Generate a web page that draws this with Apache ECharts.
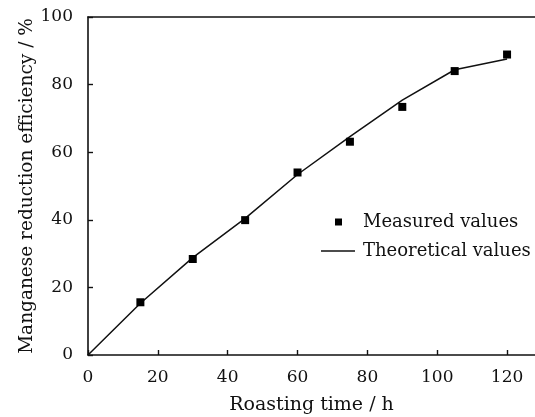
<!DOCTYPE html>
<html>
<head>
<meta charset="utf-8">
<style>html,body{margin:0;padding:0;background:#fff}#c{width:535px;height:417px}</style>
<script src="https://cdn.jsdelivr.net/npm/echarts@6/dist/echarts.min.js"></script>
</head>
<body>
<div id="c"></div>
<script>
var timeH = [0, 15, 30, 45, 60, 75, 90, 105, 120];
var measuredX = [15, 30, 45, 60, 75, 90, 105, 120];
var measuredY = [15.6, 28.4, 39.9, 54.0, 63.1, 73.4, 84.0, 88.9];
var theoreticalY = [0, 15.3, 28.8, 40.4, 53.4, 64.6, 75.4, 84.4, 87.6];
var xTicks = [0, 20, 40, 60, 80, 100, 120];
var yTicks = [0, 20, 40, 60, 80, 100];

var FONT = 'DejaVu Serif';
var INK = '#111';
var chart = echarts.init(document.getElementById('c'), null, {renderer: 'canvas'});
chart.setOption({
  animation: false,
  backgroundColor: '#fff',
  grid: {left: 88, top: 17, bottom: 62, right: 0, outerBoundsMode: 'none', containLabel: false},
  xAxis: [{
    type: 'value', min: xTicks[0], max: 128,
    name: 'Roasting time / h', nameLocation: 'middle', nameGap: 41, nameMoveOverlap: false,
    nameTextStyle: {fontFamily: FONT, fontSize: 19, color: INK},
    axisLine: {lineStyle: {color: INK, width: 1.6}},
    axisTick: {inside: true, length: 5, customValues: xTicks, lineStyle: {color: INK, width: 1.4}},
    splitLine: {show: false},
    axisLabel: {fontFamily: FONT, fontSize: 17, color: INK, margin: 14, customValues: xTicks}
  }, {
    type: 'value', position: 'top', min: xTicks[0], max: 128,
    axisLine: {show: true, lineStyle: {color: INK, width: 1.6}},
    axisTick: {show: false}, axisLabel: {show: false}, splitLine: {show: false}
  }],
  yAxis: {
    type: 'value', min: yTicks[0], max: yTicks[yTicks.length - 1], interval: 20,
    name: 'Manganese reduction efficiency / %', nameLocation: 'middle', nameGap: 51, nameMoveOverlap: false,
    nameTextStyle: {fontFamily: FONT, fontSize: 18.5, color: INK},
    axisLine: {lineStyle: {color: INK, width: 1.6}},
    axisTick: {inside: true, length: 5, lineStyle: {color: INK, width: 1.4}},
    splitLine: {show: false},
    axisLabel: {fontFamily: FONT, fontSize: 17, color: INK, margin: 15}
  },
  legend: [
    {data: ['Measured values'], orient: 'vertical', left: 335, top: 211, padding: 0,
     itemWidth: 7, itemHeight: 7, icon: 'rect', itemStyle: {color: '#000'},
     textStyle: {fontFamily: FONT, fontSize: 18, color: INK, padding: [0, 0, 0, 16], lineHeight: 22}},
    {data: ['Theoretical values'], orient: 'vertical', left: 321, top: 240, padding: 0,
     itemWidth: 34, itemHeight: 1.5, icon: 'rect', itemStyle: {color: INK},
     textStyle: {fontFamily: FONT, fontSize: 18, color: INK, padding: [0, 0, 0, 3], lineHeight: 22}}
  ],
  series: [
    {name: 'Theoretical values', type: 'line', data: timeH.map(function (x, i) { return [x, theoreticalY[i]]; }),
     showSymbol: false, symbol: 'none', lineStyle: {color: INK, width: 1.5}, itemStyle: {color: INK}, z: 2},
    {name: 'Measured values', type: 'scatter', data: measuredX.map(function (x, i) { return [x, measuredY[i]]; }),
     symbol: 'rect', symbolSize: 8, itemStyle: {color: '#000', opacity: 1}, z: 3}
  ]
});
</script>
</body>
</html>
